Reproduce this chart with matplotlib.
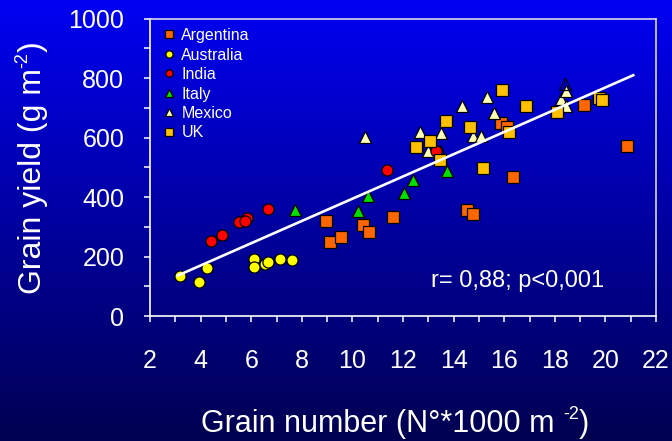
import numpy as np
import matplotlib
matplotlib.use("Agg")
import matplotlib.pyplot as plt
from matplotlib.colors import LinearSegmentedColormap

plt.rcParams['font.family'] = ['Liberation Sans', 'DejaVu Sans']

# valores (grain number x1000 m-2, grain yield g m-2)
arg_x = [8.95, 9.12, 9.54, 10.42, 10.66, 11.59, 14.53, 14.76, 15.87, 16.12, 16.34, 19.16, 20.85]
arg_y = [320, 249, 267, 305, 282, 333, 357, 343, 649, 636, 468, 710, 572]

aus_x = [3.18, 3.95, 4.25, 6.12, 6.12, 6.54, 6.68, 7.12, 7.61]
aus_y = [135, 114, 163, 191, 166, 176, 182, 191, 187]

ind_x = [4.42, 4.83, 5.51, 5.84, 5.77, 6.65, 11.35, 13.29]
ind_y = [252, 272, 316, 330, 320, 358, 492, 553]

ita_x = [7.75, 10.22, 10.63, 12.02, 12.38, 13.72]
ita_y = [357, 352, 404, 415, 458, 488]

mex_x = [10.5, 12.66, 12.98, 13.49, 14.32, 14.76, 15.07, 15.31, 15.6, 18.26, 18.43, 18.46]
mex_y = [603, 617, 556, 615, 706, 606, 606, 735, 682, 730, 755, 706]
mex_open_x = [13.46, 18.41]
mex_open_y = [556, 780]

uk_x = [12.53, 13.05, 13.46, 13.69, 14.63, 15.17, 15.92, 16.2, 16.86, 18.1, 19.73, 19.86]
uk_y = [569, 587, 524, 654, 634, 496, 759, 620, 706, 687, 732, 725]

# recta de regresion
slope = 37.4
intercept = 20.2
line_x = [3.1, 21.1]

W, H = 672, 441
fig = plt.figure(figsize=(W / 100, H / 100), dpi=100)

# fondo degradado
bg = fig.add_axes([0, 0, 1, 1], zorder=-10)
cmap_bg = LinearSegmentedColormap.from_list('bg', ['#000050', '#0000F2'])
grad = np.linspace(0, 1, 256).reshape(-1, 1)
bg.imshow(grad, aspect='auto', cmap=cmap_bg, origin='lower', extent=[0, 1, 0, 1])
bg.axis('off')

ax = fig.add_axes([150 / W, 1 - 316 / H, 506 / W, 297.5 / H])
ax.patch.set_alpha(0)

ms = 8
kw = dict(linestyle='none', markeredgecolor='black', markeredgewidth=0.9)
ax.plot(arg_x, arg_y, marker='s', markersize=ms, markerfacecolor='#FF6600', label='Argentina', **kw)
ax.plot(aus_x, aus_y, marker='o', markersize=ms, markerfacecolor='#FFFF00', label='Australia', **kw)
ax.plot(mex_x, mex_y, marker='^', markersize=ms + 1, markerfacecolor='#FFFFB8', label='Mexico_', **kw)
ax.plot(mex_open_x, mex_open_y, marker='^', markersize=ms + 1, markerfacecolor='none', **kw)
ax.plot(ita_x, ita_y, marker='^', markersize=ms + 1, markerfacecolor='#00E000', label='Italy_', **kw)
ax.plot(ind_x, ind_y, marker='o', markersize=ms, markerfacecolor='#FF0000', label='India_', **kw)
ax.plot(uk_x, uk_y, marker='s', markersize=ms, markerfacecolor='#FFC000', label='UK_', **kw)

lx = np.array(line_x)
ax.plot(lx, intercept + slope * lx, color='white', lw=1.9, zorder=5)

ax.text(13.09, 118, 'r= 0,88; p<0,001', color='white', fontsize=17, va='center')

# leyenda en el orden original
h, l = ax.get_legend_handles_labels()
orden = {'Argentina': 0, 'Australia': 1, 'India_': 2, 'Italy_': 3, 'Mexico_': 4, 'UK_': 5}
pares = sorted(zip(h, l), key=lambda p: orden[p[1]])
leg = ax.legend([p[0] for p in pares], [p[1].rstrip('_') for p in pares],
                loc='upper left', bbox_to_anchor=(0.005, 1.0), frameon=False,
                fontsize=11.5, markerscale=0.65, handlelength=0.8, handletextpad=0.4,
                labelspacing=0.28, borderaxespad=0.2)
for t in leg.get_texts():
    t.set_color('white')

ax.set_xlim(2, 22)
ax.set_ylim(0, 1000)
ax.set_xticks(np.arange(2, 23, 2))
ax.set_xticks(np.arange(3, 22, 2), minor=True)
ax.set_yticks(np.arange(0, 1001, 200))
ax.set_yticks(np.arange(100, 1000, 200), minor=True)

for s in ax.spines.values():
    s.set_color('#D8D8EC')
    s.set_linewidth(1.2)
ax.spines['left'].set_color('white')
ax.spines['bottom'].set_color('white')

ax.tick_params(which='both', direction='out', length=4.5, width=1.1, color='white',
               labelcolor='white', labelsize=18)
ax.tick_params(axis='x', which='both', pad=19)
ax.tick_params(axis='y', which='both', pad=14)

# titulos de ejes con superindice "-2" a mano
rend = fig.canvas.get_renderer()

def ancho(t):
    bb = t.get_window_extent(rend)
    return bb.width, bb.height

# eje x
x0, y0 = 201, 432
t1 = fig.text(x0 / W, 1 - y0 / H, 'Grain number (N°*1000 m ', color='white',
              fontsize=22, va='baseline')
w1, _ = ancho(t1)
t2 = fig.text((x0 + w1) / W, 1 - (y0 - 13) / H, '-2', color='white', fontsize=13, va='baseline')
w2, _ = ancho(t2)
fig.text((x0 + w1 + w2) / W, 1 - y0 / H, ')', color='white', fontsize=22, va='baseline')

# eje y (rotado)
bx, by = 41, 294
r1 = fig.text(bx / W, 1 - by / H, 'Grain yield (g m', color='white', fontsize=23,
              rotation=90, rotation_mode='anchor', ha='left', va='baseline')
_, h1 = ancho(r1)
r2 = fig.text((bx - 14) / W, 1 - (by - h1) / H, '-2', color='white', fontsize=13,
              rotation=90, rotation_mode='anchor', ha='left', va='baseline')
_, h2 = ancho(r2)
fig.text(bx / W, 1 - (by - h1 - h2) / H, ')', color='white', fontsize=23,
         rotation=90, rotation_mode='anchor', ha='left', va='baseline')

fig.savefig('out.png', dpi=100)
